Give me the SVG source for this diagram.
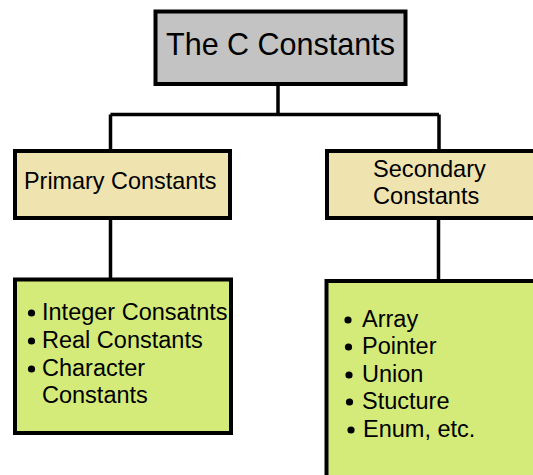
<svg xmlns="http://www.w3.org/2000/svg" width="533" height="475" viewBox="0 0 533 475">
<style>
.box{stroke:#000;stroke-width:4}
.title{fill:#c3c3c3}
.cat{fill:#efe4b0}
.list{fill:#d4eb7a}
text{font-family:"Liberation Sans",Arial,sans-serif;fill:#000}
.conn{stroke:#000;stroke-width:3.5;fill:none}
</style>
<rect width="533" height="475" fill="#fff"/>
<g id="connectors">
<path class="conn" d="M278 84V114.5M110.5 114.5H439M110.5 114.5V151M439 114.5V151"/>
<path class="conn" d="M110.5 218V279.5M438.5 218V281"/>
</g>
<g id="root">
<rect class="box title" x="155.5" y="11.5" width="250" height="72.5"/>
<text x="280.5" y="55" font-size="30.5" text-anchor="middle">The C Constants</text>
</g>
<g id="primary">
<rect class="box cat" x="15" y="151" width="215" height="67"/>
<text x="24" y="189" font-size="23.4">Primary Constants</text>
</g>
<g id="secondary">
<rect class="box cat" x="327" y="151" width="220" height="67"/>
<text x="373" y="177" font-size="23.6">Secondary</text>
<text x="373" y="204" font-size="23.6">Constants</text>
</g>
<g id="primary-list">
<rect class="box list" x="15" y="279.5" width="216" height="153.5"/>
<g font-size="23.5">
<circle cx="31.5" cy="313" r="3.6"/>
<text x="42" y="320">Integer Consatnts</text>
<circle cx="31.5" cy="341" r="3.6"/>
<text x="42" y="348">Real Constants</text>
<circle cx="31.5" cy="369" r="3.6"/>
<text x="42" y="376">Character</text>
<text x="42" y="403">Constants</text>
</g>
</g>
<g id="secondary-list">
<rect class="box list" x="326.5" y="281" width="220" height="210"/>
<g font-size="23.5">
<circle cx="348" cy="320" r="3.6"/>
<text x="362" y="327">Array</text>
<circle cx="348.5" cy="347" r="3.6"/>
<text x="362" y="354">Pointer</text>
<circle cx="349" cy="375" r="3.6"/>
<text x="362" y="382">Union</text>
<circle cx="349.5" cy="402" r="3.6"/>
<text x="362" y="409">Stucture</text>
<circle cx="351" cy="430" r="3.6"/>
<text x="363" y="437">Enum, etc.</text>
</g>
</g>
</svg>
